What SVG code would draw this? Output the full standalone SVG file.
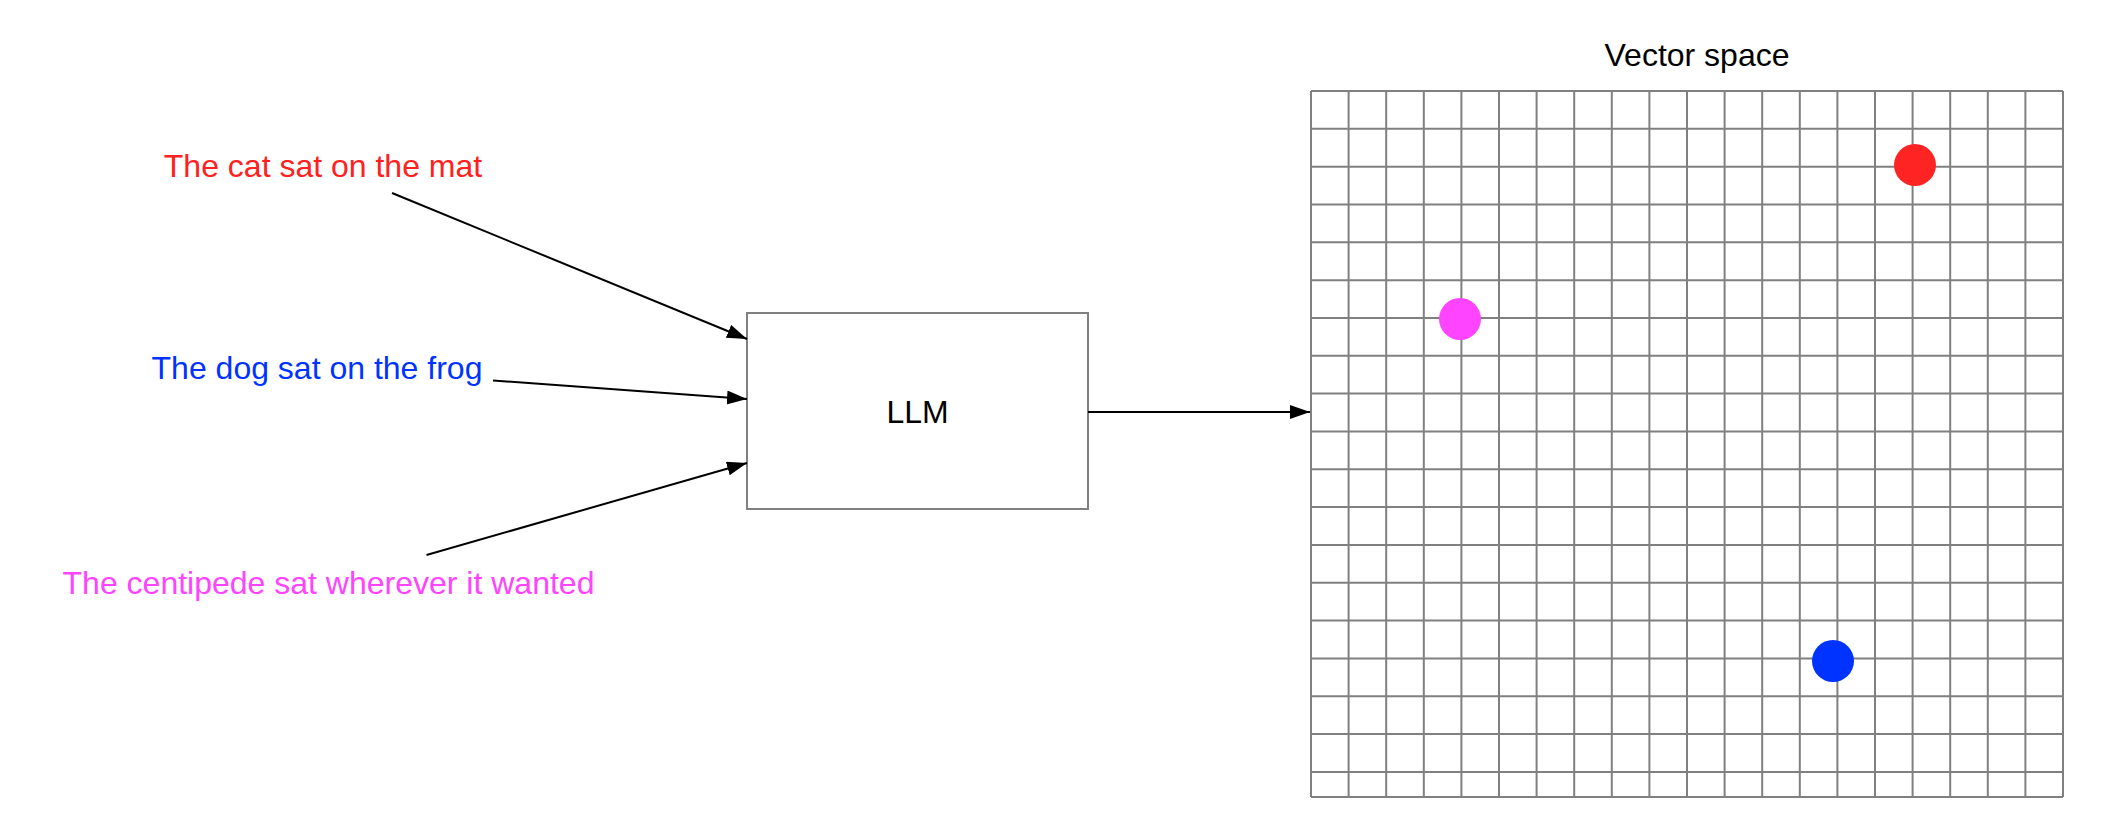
<svg xmlns="http://www.w3.org/2000/svg" width="2108" height="840" viewBox="0 0 2108 840">
<style>
  text { font-family: "Liberation Sans", Arial, Helvetica, sans-serif; font-size: 32px; }
  .grid line { stroke: #808080; stroke-width: 2; }
  .edge { stroke: #000000; stroke-width: 2; fill: none; marker-end: url(#arrow); }
</style>
<defs>
  <marker id="arrow" markerUnits="userSpaceOnUse" markerWidth="22" markerHeight="16" refX="20" refY="7" orient="auto">
    <path d="M0,0 L20,7 L0,14 Z" fill="#000000"/>
  </marker>
</defs>
<rect x="0" y="0" width="2108" height="840" fill="#ffffff"/>

<g id="vector-space">
  <text x="1697" y="66" text-anchor="middle" fill="#000000">Vector space</text>
  <g class="grid">
    <line x1="1311" y1="91" x2="1311" y2="797"/>
    <line x1="1348.6" y1="91" x2="1348.6" y2="797"/>
    <line x1="1386.2" y1="91" x2="1386.2" y2="797"/>
    <line x1="1423.8" y1="91" x2="1423.8" y2="797"/>
    <line x1="1461.4" y1="91" x2="1461.4" y2="797"/>
    <line x1="1499" y1="91" x2="1499" y2="797"/>
    <line x1="1536.6" y1="91" x2="1536.6" y2="797"/>
    <line x1="1574.2" y1="91" x2="1574.2" y2="797"/>
    <line x1="1611.8" y1="91" x2="1611.8" y2="797"/>
    <line x1="1649.4" y1="91" x2="1649.4" y2="797"/>
    <line x1="1687" y1="91" x2="1687" y2="797"/>
    <line x1="1724.6" y1="91" x2="1724.6" y2="797"/>
    <line x1="1762.2" y1="91" x2="1762.2" y2="797"/>
    <line x1="1799.8" y1="91" x2="1799.8" y2="797"/>
    <line x1="1837.4" y1="91" x2="1837.4" y2="797"/>
    <line x1="1875" y1="91" x2="1875" y2="797"/>
    <line x1="1912.6" y1="91" x2="1912.6" y2="797"/>
    <line x1="1950.2" y1="91" x2="1950.2" y2="797"/>
    <line x1="1987.8" y1="91" x2="1987.8" y2="797"/>
    <line x1="2025.4" y1="91" x2="2025.4" y2="797"/>
    <line x1="2063" y1="91" x2="2063" y2="797"/>
    <line x1="1311" y1="91" x2="2063" y2="91"/>
    <line x1="1311" y1="128.8" x2="2063" y2="128.8"/>
    <line x1="1311" y1="166.7" x2="2063" y2="166.7"/>
    <line x1="1311" y1="204.5" x2="2063" y2="204.5"/>
    <line x1="1311" y1="242.3" x2="2063" y2="242.3"/>
    <line x1="1311" y1="280.2" x2="2063" y2="280.2"/>
    <line x1="1311" y1="318" x2="2063" y2="318"/>
    <line x1="1311" y1="355.8" x2="2063" y2="355.8"/>
    <line x1="1311" y1="393.6" x2="2063" y2="393.6"/>
    <line x1="1311" y1="431.5" x2="2063" y2="431.5"/>
    <line x1="1311" y1="469.3" x2="2063" y2="469.3"/>
    <line x1="1311" y1="507.1" x2="2063" y2="507.1"/>
    <line x1="1311" y1="545" x2="2063" y2="545"/>
    <line x1="1311" y1="582.8" x2="2063" y2="582.8"/>
    <line x1="1311" y1="620.6" x2="2063" y2="620.6"/>
    <line x1="1311" y1="658.5" x2="2063" y2="658.5"/>
    <line x1="1311" y1="696.3" x2="2063" y2="696.3"/>
    <line x1="1311" y1="734.1" x2="2063" y2="734.1"/>
    <line x1="1311" y1="772" x2="2063" y2="772"/>
    <line x1="1311" y1="797" x2="2063" y2="797"/>
  </g>
</g>

<g id="dot-cat"><circle cx="1915" cy="165" r="21" fill="#FF2424"/></g>
<g id="dot-centipede"><circle cx="1460" cy="319" r="21" fill="#FF44FF"/></g>
<g id="dot-dog"><circle cx="1833" cy="661" r="21" fill="#0033FF"/></g>

<g id="llm">
  <rect x="747" y="313" width="341" height="196" fill="#ffffff" stroke="#808080" stroke-width="2"/>
  <text x="917.5" y="423" text-anchor="middle" fill="#000000">LLM</text>
</g>

<g id="text-cat"><text x="323" y="177" text-anchor="middle" fill="#FF2020">The cat sat on the mat</text></g>
<g id="text-dog"><text x="317" y="379" text-anchor="middle" fill="#0033FF">The dog sat on the frog</text></g>
<g id="text-centipede"><text x="328.5" y="594" text-anchor="middle" fill="#FF44FF">The centipede sat wherever it wanted</text></g>

<g id="connectors">
  <line class="edge" x1="392" y1="193" x2="747" y2="339"/>
  <line class="edge" x1="493" y1="380.5" x2="747" y2="399"/>
  <line class="edge" x1="426.5" y1="555" x2="747" y2="463"/>
  <line class="edge" x1="1088" y1="412" x2="1310" y2="412"/>
</g>
</svg>
